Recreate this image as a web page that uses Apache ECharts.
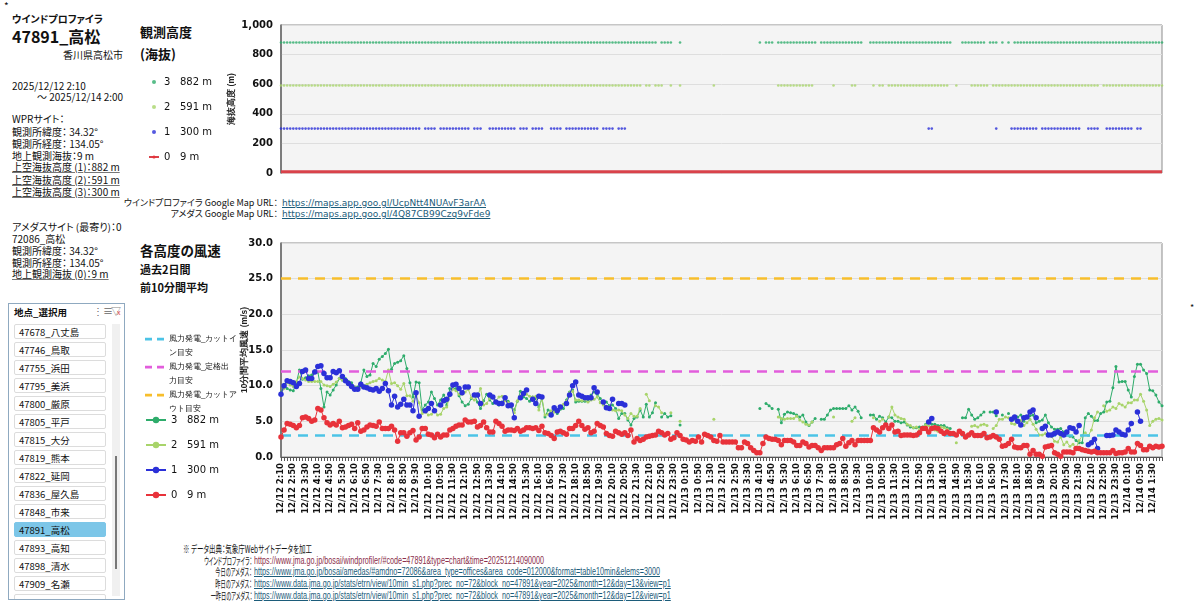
<!DOCTYPE html>
<html>
<head>
<meta charset="utf-8">
<script src="https://cdn.jsdelivr.net/npm/echarts@6/dist/echarts.min.js"></script>
<style>
body{margin:0;width:1200px;height:612px;background:#fff;position:relative;overflow:hidden;font-family:"Noto Sans CJK JP","Noto Sans",sans-serif;color:#111;font-feature-settings:"palt"}
.t{position:absolute;white-space:nowrap;font-size:10px;line-height:12px}
.b{font-weight:bold}
.u{text-decoration:underline;text-decoration-color:#777}
.lnk{color:#1c5c7a;text-decoration:underline}
.src{position:absolute;white-space:nowrap;font-size:10.5px;line-height:11px}
.lab{right:948px;transform-origin:right center}
.url{left:254px;transform-origin:left center;font-family:"Liberation Sans",sans-serif}
#topChart{position:absolute;left:130px;top:0;width:1070px;height:185px}
#botChart{position:absolute;left:130px;top:230px;width:1070px;height:310px}
#box{position:absolute;left:8px;top:303px;width:115px;height:295px;border:1px solid #8fa9c0;overflow:hidden;background:#fff}
.item{position:absolute;left:5px;width:92px;height:15px;border:1px solid #dcdcdc;border-radius:2px;font-size:9.5px;line-height:14px;padding-left:4px;box-sizing:border-box;background:#fff}
.item.sel{background:#7cc6e8;border-color:#7cc6e8}
</style>
</head>
<body>
<div class="t" style="left:4px;top:0px;font-size:10px">*</div>
<div class="t" style="left:1190px;top:302px;font-size:9px">*</div>
<div class="t b" style="left:12px;top:13px;font-size:10px">ウインドプロファイラ</div>
<div class="t b" style="left:12px;top:26px;font-size:16px;line-height:20px">47891_高松</div>
<div class="t" style="right:1077px;top:49px;font-size:10px">香川県高松市</div>
<div class="t" style="left:12px;top:80px">2025/12/12 2:10</div>
<div class="t" style="left:37px;top:91px">～ 2025/12/14 2:00</div>
<div class="t" style="left:12px;top:113px">WPRサイト：</div>
<div class="t" style="left:12px;top:126px">観測所緯度： 34.32°</div>
<div class="t" style="left:12px;top:138px">観測所経度： 134.05°</div>
<div class="t" style="left:12px;top:150px">地上観測海抜：9 m</div>
<div class="t u" style="left:12px;top:161px">上空海抜高度 (1)：882 m</div>
<div class="t u" style="left:12px;top:174px">上空海抜高度 (2)：591 m</div>
<div class="t u" style="left:12px;top:186px">上空海抜高度 (3)：300 m</div>
<div class="t" style="left:12px;top:221px">アメダスサイト (最寄り)：0</div>
<div class="t" style="left:12px;top:233px">72086_高松</div>
<div class="t" style="left:12px;top:245px">観測所緯度： 34.32°</div>
<div class="t" style="left:12px;top:257px">観測所経度： 134.05°</div>
<div class="t u" style="left:12px;top:268px">地上観測海抜 (0)：9 m</div>

<div id="box">
  <div class="t b" style="left:5px;top:2px;font-size:9.5px">地点_選択用</div>
  <div class="t" style="left:84px;top:1px;font-size:10px;color:#666">⋮≡</div>
  <div class="t" style="left:102px;top:1px;font-size:10px;color:#888">▽<span style="color:#d33;font-size:7px;margin-left:-4px">x</span></div>
  <div style="position:absolute;left:103px;top:20px;width:8px;height:272px;background:#f0f0f0"></div>
  <div style="position:absolute;left:106px;top:152px;width:2px;height:113px;background:#777"></div>
  <div id="items"></div>
</div>

<div class="t b" style="left:140px;top:24px;font-size:13px;line-height:16px">観測高度</div>
<div class="t b" style="left:140px;top:46px;font-size:13px;line-height:16px">(海抜)</div>
<div class="t b" style="left:140px;top:242px;font-size:13.5px;line-height:16px">各高度の風速</div>
<div class="t b" style="left:140px;top:263px;font-size:11px">過去2日間</div>
<div class="t b" style="left:140px;top:281px;font-size:11px">前10分間平均</div>

<div class="t" style="right:922px;top:197px;font-size:9px">ウインドプロファイラ Google Map URL：</div>
<div class="t lnk" style="left:282px;top:197px;font-size:9px;font-family:'DejaVu Sans'">https://maps.app.goo.gl/UcpNtt4NUAvF3arAA</div>
<div class="t" style="right:922px;top:208px;font-size:9px">アメダス Google Map URL：</div>
<div class="t lnk" style="left:282px;top:208px;font-size:9px;font-family:'DejaVu Sans'">https://maps.app.goo.gl/4Q87CB99Czq9vFde9</div>

<div class="src" id="srcHead" style="left:183px;top:543px;transform-origin:left center">※ データ出典：気象庁Webサイトデータを加工</div>
<div class="src lab" style="top:555px">ウインドプロファイラ：</div>
<div class="src url" style="top:555px;color:#8a2e4a">https://www.jma.go.jp/bosai/windprofiler/#code=47891&amp;type=chart&amp;time=20251214090000</div>
<div class="src lab" style="top:566px">今日のアメダス：</div>
<div class="src url lnk" style="top:566px">https://www.jma.go.jp/bosai/amedas/#amdno=72086&amp;area_type=offices&amp;area_code=012000&amp;format=table10min&amp;elems=3000</div>
<div class="src lab" style="top:578px">昨日のアメダス：</div>
<div class="src url lnk" style="top:578px">https://www.data.jma.go.jp/stats/etrn/view/10min_s1.php?prec_no=72&amp;block_no=47891&amp;year=2025&amp;month=12&amp;day=13&amp;view=p1</div>
<div class="src lab" style="top:590px">一昨日のアメダス：</div>
<div class="src url lnk" style="top:590px">https://www.data.jma.go.jp/stats/etrn/view/10min_s1.php?prec_no=72&amp;block_no=47891&amp;year=2025&amp;month=12&amp;day=12&amp;view=p1</div>

<div id="topChart"></div>
<div id="botChart"></div>

<script>
// 地点リスト
var stations = ['47678_八丈島','47746_鳥取','47755_浜田','47795_美浜','47800_厳原','47805_平戸','47815_大分',
  '47819_熊本','47822_延岡','47836_屋久島','47848_市来','47891_高松','47893_高知','47898_清水','47909_名瀬',''];
var selStation = '47891_高松';

// 観測高度 (海抜)
var levels = ['3','2','1','0'];
var heights = [882, 591, 300, 9];
var heightLabels = ['882 m','591 m','300 m','9 m'];

// 風力発電の目安 (m/s)
var cutIn = 3.0, rated = 12.0, cutOut = 25.0;

// 10分間平均風速 (m/s)  12/12 2:10 ～ 12/14 2:00
var ws882 = [
  9.0,10.2,9.6,9.4,9.3,10.4,12.2,10.9,11.1,11.4,11.5,12.1,
  11.9,9.6,7.0,9.1,8.7,9.4,10.1,11.0,10.8,11.0,10.6,10.4,
  9.8,9.8,10.4,12.2,11.3,11.5,13.1,12.7,13.7,14.1,14.5,15.1,
  12.3,13.1,13.3,13.5,14.2,12.4,10.4,8.4,10.5,10.4,6.6,7.3,
  7.7,9.1,8.2,7.3,8.0,8.7,7.3,9.6,9.6,9.6,8.6,7.7,
  7.2,7.4,8.2,8.7,7.7,6.8,7.9,8.8,8.0,7.5,7.8,7.3,
  7.7,8.2,7.8,7.0,6.6,7.8,9.2,8.4,8.2,7.8,8.4,8.2,
  7.0,8.2,5.6,6.6,6.3,6.5,6.1,6.7,6.8,8.0,9.1,9.4,
  7.7,7.8,7.8,7.8,7.8,8.7,9.1,8.8,8.2,7.5,7.7,7.2,
  7.3,6.8,5.4,6.1,6.1,5.2,4.5,5.4,5.6,6.6,5.6,7.4,
  5.6,6.2,7.6,null,5.6,6.1,5.6,5.8,null,null,4.5,null,
  null,null,null,null,null,null,null,null,null,null,null,null,
  null,null,null,null,null,null,null,null,null,null,null,null,
  6.8,null,7.5,7.2,6.8,null,6.7,4.8,6.0,6.3,6.2,6.1,
  5.9,5.6,5.9,4.9,4.4,4.9,5.4,null,5.3,5.3,5.9,6.6,
  6.8,6.8,6.8,6.8,6.8,7.2,6.6,7.0,6.4,5.5,null,null,
  5.9,5.9,5.3,5.7,5.5,4.9,5.6,5.5,5.0,5.0,4.8,4.9,
  4.5,4.2,4.1,4.1,4.2,4.2,4.6,4.9,4.6,4.6,4.4,4.4,
  4.4,4.1,4.0,null,null,null,5.5,5.5,6.7,5.9,5.3,5.5,
  5.9,6.3,null,6.3,6.3,5.8,null,5.9,null,6.1,null,5.3,
  5.6,5.9,5.0,5.5,5.8,5.9,4.8,5.0,5.2,5.9,4.8,4.2,
  3.9,3.9,4.0,3.5,3.1,2.9,2.8,2.3,2.0,2.0,5.5,6.1,
  5.7,5.1,5.1,6.1,6.3,7.7,7.8,9.7,12.7,10.5,10.6,10.6,
  9.4,8.4,11.3,13.0,13.0,12.2,11.7,9.4,9.3,8.7,7.7,7.2
];
var ws591 = [
  8.8,9.6,10.4,10.1,9.9,10.6,11.2,11.0,10.8,10.6,10.6,10.6,
  10.6,10.6,10.1,10.0,9.9,10.2,10.5,11.0,10.8,10.6,10.2,10.0,
  9.8,9.5,9.8,10.0,10.2,10.4,10.6,10.7,11.0,10.8,10.6,12.2,
  10.3,10.4,10.0,9.5,10.3,8.6,8.6,7.8,8.6,7.6,6.1,6.3,
  5.9,6.0,6.4,5.9,6.0,6.8,7.0,8.6,9.5,9.3,8.8,8.8,
  9.1,9.5,8.3,8.0,8.6,9.6,7.3,7.5,8.2,8.3,7.9,8.4,
  8.5,7.9,7.6,7.4,6.2,7.9,8.6,9.0,8.8,8.5,8.4,8.5,
  6.6,8.3,5.9,6.0,6.5,6.3,6.4,6.8,7.4,7.8,9.0,9.2,
  8.0,8.0,7.9,8.0,7.7,8.0,8.1,8.4,7.6,7.3,7.1,7.0,
  6.6,6.5,6.6,6.5,5.9,5.4,6.1,5.7,5.7,6.8,null,8.8,
  7.9,null,7.2,7.0,6.2,null,null,6.2,null,null,5.0,null,
  null,null,null,null,null,null,null,null,null,5.3,null,null,
  null,null,null,null,null,null,null,null,null,null,null,null,
  null,null,null,null,null,null,5.6,5.4,5.3,5.4,5.4,5.4,
  5.7,5.2,4.9,4.6,4.5,4.9,null,null,null,null,null,null,
  5.6,null,null,null,null,null,5.0,5.5,null,null,null,null,
  null,5.5,null,5.0,5.3,null,5.6,7.0,5.9,5.6,5.4,5.3,
  4.6,4.4,4.1,4.2,3.8,4.0,4.5,4.4,4.0,3.8,3.6,4.2,
  4.1,3.9,null,null,2.0,null,null,null,null,4.3,4.4,4.2,
  4.5,4.6,4.4,null,4.0,4.4,5.3,5.3,5.6,5.5,4.7,4.6,
  4.9,5.1,4.4,4.8,5.3,4.6,3.9,3.1,3.1,3.3,3.0,2.9,
  2.2,2.1,2.8,1.7,2.1,1.5,1.8,1.2,2.3,3.0,3.4,3.0,
  3.8,5.5,6.3,null,7.2,6.4,6.6,7.0,6.8,7.5,7.3,7.0,
  7.6,7.6,8.0,8.0,8.8,7.8,6.6,4.4,5.0,5.3,5.4,5.2
];
var ws300 = [
  8.8,10.0,10.7,10.6,10.4,9.9,10.3,12.0,12.2,11.0,11.0,11.9,
  12.7,12.8,11.7,11.1,11.1,12.0,11.8,12.1,11.3,10.7,10.3,9.9,
  9.5,9.5,10.2,9.8,9.7,9.5,9.4,9.6,9.2,9.6,10.3,9.3,
  7.3,8.5,7.0,7.4,8.1,7.3,7.3,6.5,9.0,5.7,null,6.5,
  6.8,7.5,6.5,null,7.3,7.9,8.1,8.8,10.1,10.2,9.6,9.0,
  9.8,9.8,null,8.7,8.7,7.5,null,null,8.7,8.4,7.7,7.5,
  7.5,8.3,7.2,7.3,5.5,null,8.3,8.9,9.4,null,8.1,7.5,
  8.5,8.4,null,null,5.9,6.9,6.5,7.0,null,7.5,8.7,10.0,
  10.5,8.7,8.5,8.3,8.3,8.3,9.7,9.1,null,7.7,6.9,6.8,
  8.1,null,7.5,7.5,7.3,null,null,null,null,null,null,null,
  null,null,null,null,null,null,null,null,null,null,null,null,
  null,null,null,null,null,null,null,null,null,null,null,null,
  null,null,null,null,null,null,null,null,null,null,null,null,
  null,null,null,null,null,null,null,null,null,null,null,null,
  null,null,null,null,null,null,null,null,null,null,null,null,
  null,null,null,null,null,null,null,null,null,null,null,null,
  null,null,null,null,null,null,null,null,null,null,null,null,
  null,null,null,null,null,null,null,4.9,5.4,null,null,null,
  null,null,null,null,null,null,null,null,null,null,null,null,
  null,null,null,null,null,6.3,null,null,null,null,5.3,5.6,
  5.0,4.5,5.5,5.6,6.3,6.6,5.5,null,4.0,4.3,3.1,3.1,
  3.3,3.5,3.3,3.1,3.5,4.1,4.0,3.5,4.4,null,null,1.7,
  2.0,2.5,1.2,null,null,3.0,3.0,3.1,3.8,3.5,3.2,3.1,
  3.8,4.7,null,6.3,5.0,null,null,null,null,null,null,null
];
var ws9 = [
  2.8,3.8,4.7,4.6,4.4,4.1,4.4,5.5,5.6,5.4,5.0,5.2,
  6.8,6.6,5.5,4.8,4.5,4.7,4.5,5.0,4.1,4.2,4.4,4.6,
  4.0,4.8,3.6,3.8,4.2,4.5,4.4,4.3,4.9,4.0,4.0,4.0,
  4.3,3.8,2.2,3.4,3.4,2.9,3.4,3.7,2.4,2.8,4.0,4.0,
  3.2,3.1,2.7,3.2,2.8,3.1,3.1,3.8,4.0,4.3,4.5,4.5,
  5.2,4.9,4.9,5.0,4.2,4.4,4.9,4.1,3.5,3.5,5.0,4.7,
  4.3,3.6,3.8,3.8,3.7,4.0,3.6,3.8,4.1,4.1,4.0,4.1,
  3.7,4.3,3.4,3.3,3.0,2.6,3.5,3.6,3.4,3.2,4.0,4.0,
  4.4,5.0,4.4,3.9,4.1,3.4,3.6,4.7,4.4,4.2,3.3,3.0,
  2.9,3.6,3.4,3.2,3.4,3.0,3.8,2.1,2.6,2.3,2.5,2.8,
  2.9,3.0,3.1,3.6,3.4,3.1,3.3,2.5,2.7,3.4,3.0,2.5,
  2.4,2.1,2.3,2.2,2.8,2.1,3.2,3.0,2.8,2.3,2.2,3.0,
  2.1,2.1,2.1,2.1,2.1,1.3,1.3,2.1,1.9,1.3,0.9,0.6,
  0.6,1.9,2.8,2.6,2.5,2.5,2.3,1.7,2.3,2.3,2.3,2.1,
  1.6,1.6,2.1,1.9,1.4,1.6,1.6,1.3,0.9,1.3,1.3,1.3,
  1.3,1.7,1.9,2.6,1.5,2.0,2.3,1.7,2.3,2.3,2.3,2.3,
  2.3,4.1,3.8,3.5,4.1,4.5,4.0,4.5,3.5,3.6,3.0,3.1,
  3.1,3.1,3.0,3.1,3.4,4.0,4.0,3.5,4.0,4.1,4.0,3.6,
  3.3,3.5,3.3,3.3,3.1,3.6,3.3,2.8,3.1,3.4,3.0,3.0,
  3.0,3.3,2.7,2.8,3.0,2.8,2.5,1.5,1.6,1.9,2.5,1.4,
  1.3,1.3,1.6,1.6,0.4,0.9,0.4,0.4,0.1,1.4,1.5,1.6,
  0.6,0.4,0.1,0.7,0.7,0.7,0.6,1.2,1.2,1.0,0.9,0.8,
  0.7,0.8,0.6,0.6,0.6,0.6,0.6,0.9,0.5,0.6,0.6,0.7,
  1.2,0.7,0.7,1.9,1.6,1.0,1.0,1.5,1.3,1.5,1.4,1.5
];
var winds = [ws882, ws591, ws300, ws9];
var lvColors = ['#2eac6b', '#a8d46a', '#2b30d8', '#e8323a'];

// 時刻ラベル (10分毎)
var times = [];
for (var k = 0; k < ws9.length; k++) {
  var m = 2 * 60 + 10 + k * 10;
  var r = m % 1440;
  times.push('12/' + (12 + Math.floor(m / 1440)) + ' ' + Math.floor(r / 60) + ':' + ('0' + r % 60).slice(-2));
}

// 地点リスト描画
var html = '';
stations.forEach(function (s, i) {
  html += '<div class="item' + (s === selStation ? ' sel' : '') + '" style="top:' + (20 + i * 18) + 'px">' + s + '</div>';
});
document.getElementById('items').innerHTML = html;

// 出典欄の幅合わせ (横に詰める)
function squeeze(els, refEl, target) {
  var s = target / refEl.getBoundingClientRect().width;
  els.forEach(function (e) { e.style.transform = 'scaleX(' + s + ')'; });
}
var labs = Array.prototype.slice.call(document.querySelectorAll('.lab'));
var urls = Array.prototype.slice.call(document.querySelectorAll('.url'));
squeeze(labs, labs[0], 48);
squeeze(urls, urls[1], 406);
squeeze([document.getElementById('srcHead')], document.getElementById('srcHead'), 129);

var axisFont = 'DejaVu Sans';
var richLv = {a: {width: 16, fontSize: 10, fontFamily: axisFont}, b: {fontSize: 10, fontFamily: axisFont}};
function lvFormatter(n) { return '{a|' + n + '}{b|' + heightLabels[levels.indexOf(n)] + '}'; }

// 観測高度チャート
var topChart = echarts.init(document.getElementById('topChart'));
topChart.setOption({
  animation: false,
  grid: {left: 151, top: 25, width: 881, height: 148, show: true, backgroundColor: '#f4f4f4', borderColor: '#8c8c8c', borderWidth: 1},
  legend: {orient: 'vertical', left: 13, top: 72, itemGap: 15, itemWidth: 10, itemHeight: 4,
    data: levels, formatter: lvFormatter, textStyle: {color: '#111', rich: richLv}},
  xAxis: {type: 'category', data: times, boundaryGap: false, axisLine: {show: false}, axisTick: {show: false}, axisLabel: {show: false}, splitLine: {show: false}},
  yAxis: {type: 'value', min: 0, max: 1000, interval: 200,
    name: '海抜高度 (m)', nameLocation: 'middle', nameGap: 45, nameMoveOverlap: false,
    nameTextStyle: {fontSize: 8.5, fontWeight: 'bold', color: '#222'},
    axisLine: {show: true, lineStyle: {color: '#666', width: 1.5}},
    axisLabel: {fontFamily: axisFont, fontSize: 10, fontWeight: 'bold', color: '#111', formatter: function (v) { return v.toLocaleString('en-US'); }},
    splitLine: {lineStyle: {color: '#dedede'}}},
  series: levels.map(function (lv, j) {
    var d = winds[j].map(function (v) { return v === null ? null : heights[j]; });
    if (j === 3) {
      return {name: lv, type: 'line', data: d, symbol: 'none', color: lvColors[j], lineStyle: {width: 3, color: '#d9424a'}, z: 5};
    }
    return {name: lv, type: 'scatter', data: d, symbol: 'circle', symbolSize: 2.6, itemStyle: {color: lvColors[j]}};
  })
});

// 各高度の風速チャート
var th = [
  {name: '風力発電_カットイン目安', v: cutIn, c: '#4cc3e6'},
  {name: '風力発電_定格出力目安', v: rated, c: '#e25ddc'},
  {name: '風力発電_カットアウト目安', v: cutOut, c: '#f7be2c'}
];
var thCut = {'風力発電_カットイン目安': 9, '風力発電_定格出力目安': 8, '風力発電_カットアウト目安': 9};
// 1行目の高さに破線を置いた凡例アイコン
var dashIcon = 'path://M0,5.8h7v2.6h-7z M12,5.8h7v2.6h-7z M0,0h0.05v0.05h-0.05z M18.95,27.95h0.05v0.05h-0.05z';
var series = th.map(function (t) {
  return {name: t.name, type: 'line', data: [], symbol: 'none', color: t.c,
    lineStyle: {color: t.c, type: [6, 4], width: 2.5},
    markLine: {silent: true, symbol: 'none', label: {show: false},
      lineStyle: {color: t.c, type: [10, 7], width: 2.5}, data: [{yAxis: t.v}]}};
});
levels.forEach(function (lv, j) {
  series.push({name: lv, type: 'line', data: winds[j], color: lvColors[j], symbol: 'circle',
    symbolSize: j < 2 ? 3 : 5.5, showSymbol: true, showAllSymbol: true, lineStyle: {width: 1, color: lvColors[j]},
    itemStyle: {color: lvColors[j]}, z: 3 + j});
});

var botChart = echarts.init(document.getElementById('botChart'));
botChart.setOption({
  animation: false,
  grid: {left: 151, top: 13, width: 881, height: 214, show: true, backgroundColor: '#f4f4f4', borderColor: '#8c8c8c', borderWidth: 1},
  legend: [
    {orient: 'vertical', left: 10, top: 97, itemGap: 0, itemWidth: 19, itemHeight: 28,
      data: th.map(function (t) { return {name: t.name, icon: dashIcon}; }),
      formatter: function (n) { return n.slice(0, thCut[n]) + '\n' + n.slice(thCut[n]); },
      textStyle: {fontSize: 8, lineHeight: 14, color: '#111'}},
    {orient: 'vertical', left: 10, top: 180, itemGap: 15, itemWidth: 20, itemHeight: 8,
      data: levels, formatter: lvFormatter, textStyle: {color: '#111', rich: richLv}}
  ],
  xAxis: {type: 'category', data: times, boundaryGap: false,
    axisLine: {lineStyle: {color: '#555'}},
    axisTick: {show: true, interval: 0, length: 4, lineStyle: {color: '#555'}},
    axisLabel: {interval: 3, rotate: 90, fontFamily: axisFont, fontSize: 8.5, fontWeight: 'bold', color: '#111', margin: 6},
    splitLine: {show: false}},
  yAxis: {type: 'value', min: 0, max: 30, interval: 5,
    name: '10分間平均風速 (m/s)', nameLocation: 'middle', nameGap: 32, nameMoveOverlap: false,
    nameTextStyle: {fontSize: 8.5, fontWeight: 'bold', color: '#222'},
    axisLine: {show: true, lineStyle: {color: '#666', width: 1.5}},
    axisLabel: {fontFamily: axisFont, fontSize: 10, fontWeight: 'bold', color: '#111', formatter: function (v) { return v.toFixed(1); }},
    splitLine: {lineStyle: {color: '#dedede'}}},
  series: series
});
</script>
</body>
</html>
